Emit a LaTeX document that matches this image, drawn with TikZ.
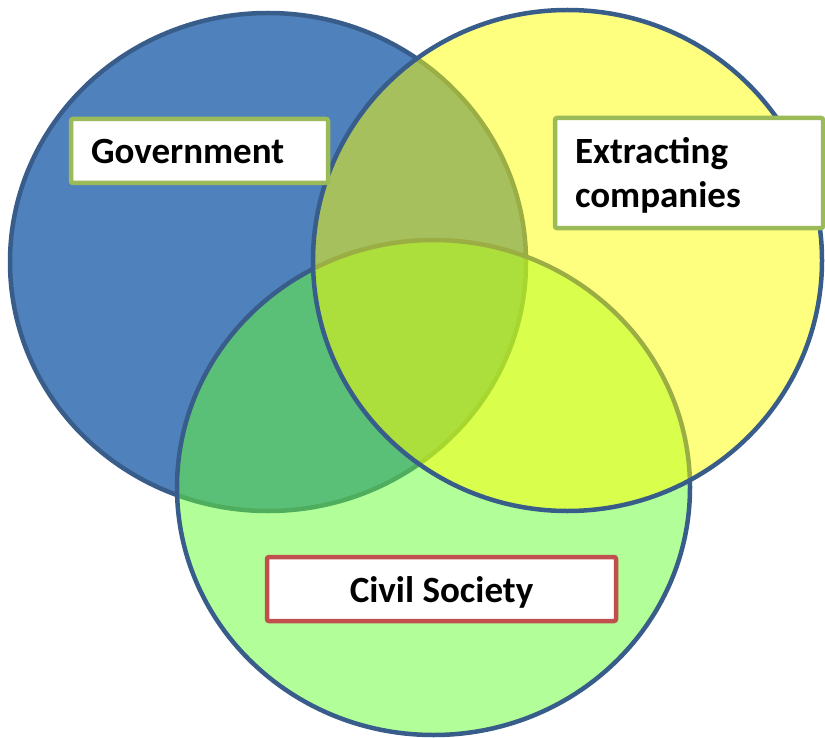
\documentclass[tikz,border=0pt]{standalone}
\usepackage{fontspec}
\setmainfont{Carlito}
\usetikzlibrary{shapes.geometric}
\definecolor{outl}{HTML}{385D8A}
\definecolor{govblue}{HTML}{4F81BD}
\definecolor{civgreen}{HTML}{66FF33}
\definecolor{extyellow}{HTML}{FFFF00}
\definecolor{boxgreen}{HTML}{9BBB59}
\definecolor{boxred}{HTML}{C0504D}
\begin{document}
\begin{tikzpicture}[x=0.5pt,y=-0.5pt,
  venn/.style={ellipse, draw=outl, line width=2.25pt, inner sep=0pt},
  labelbox/.style={draw, fill=white, line width=2.25pt, rounded corners=1pt,
    font=\fontsize{18.5pt}{22pt}\selectfont\bfseries, inner ysep=0pt}]
\useasboundingbox (0,0) rectangle (825,738);
% circles
\node[venn, fill=govblue, minimum width=258pt, minimum height=249pt] (gov) at (268,262) {};
\node[venn, fill=civgreen, fill opacity=0.5, draw opacity=1, minimum width=256.5pt, minimum height=247.5pt] (civ) at (433.5,487.5) {};
\node[venn, fill=extyellow, fill opacity=0.5, draw opacity=1, minimum width=254.5pt, minimum height=250.5pt] (ext) at (567.5,260.5) {};
% labels
\node[labelbox, draw=boxgreen, minimum width=128.5pt, minimum height=32pt,
  text width=108.5pt, inner xsep=10pt, align=left, text height=12pt, text depth=0pt]
  (govlabel) at (199.5,151) {Government};
\node[labelbox, draw=boxgreen, minimum width=134pt, minimum height=55pt,
  text width=114pt, inner xsep=10pt, align=left, text height=9pt, text depth=19pt]
  (extlabel) at (689,173) {Extracting\\companies};
\node[labelbox, draw=boxred, minimum width=174.5pt, minimum height=32pt,
  inner xsep=0pt, text height=13pt, text depth=0pt]
  (civlabel) at (441.5,589) {Civil Society};
\end{tikzpicture}
\end{document}
